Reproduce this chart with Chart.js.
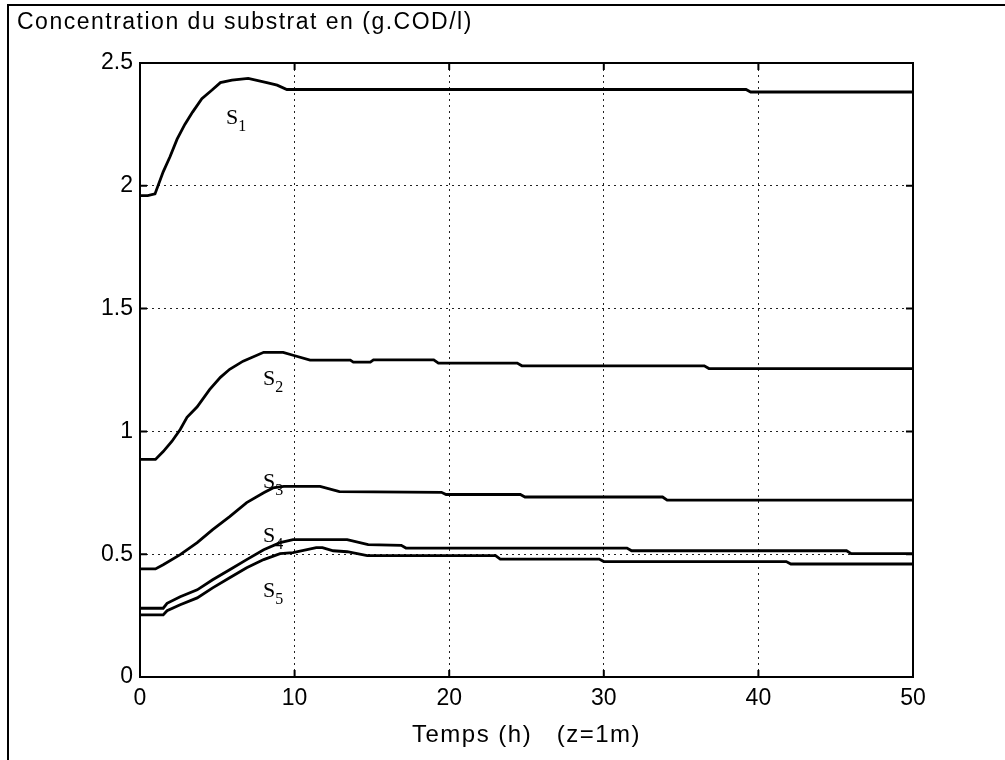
<!DOCTYPE html>
<html>
<head>
<meta charset="utf-8">
<script src="https://cdn.jsdelivr.net/npm/chart.js"></script>
<style>
body { margin: 0; background: #fff; }
</style>
</head>
<body>
<canvas id="myChart" width="1005" height="760"></canvas>
<script>
// values, time in hours, concentration in g.COD/l
const s1Time = [0, 0.5, 0.97, 1.5, 1.94, 2.4, 2.9, 3.4, 4.0, 4.66, 5.2, 5.95, 7.0, 8.2, 8.87, 9.5, 39.2, 39.5, 50];
const s1Conc = [1.96, 1.96, 1.967, 2.057, 2.118, 2.19, 2.25, 2.30, 2.355, 2.39, 2.42, 2.43, 2.437, 2.42, 2.41, 2.392, 2.392, 2.382, 2.382];

const s2Time = [0, 1.0, 1.5, 2.07, 2.6, 3.04, 3.7, 4.5, 5.2, 5.8, 6.67, 8.0, 9.26, 9.9, 11, 13.6, 13.8, 14.9, 15.1, 19.0, 19.3, 24.4, 24.7, 36.5, 36.8, 50];
const s2Conc = [0.886, 0.886, 0.918, 0.96, 1.008, 1.057, 1.10, 1.17, 1.22, 1.253, 1.286, 1.322, 1.322, 1.31, 1.29, 1.29, 1.282, 1.282, 1.291, 1.291, 1.278, 1.278, 1.267, 1.267, 1.256, 1.256];

const s3Time = [0, 1.0, 1.5, 2.6, 3.7, 4.7, 5.8, 6.9, 8.0, 8.6, 9.3, 11.65, 12.9, 19.5, 19.8, 24.6, 24.9, 33.8, 34.1, 50];
const s3Conc = [0.44, 0.44, 0.457, 0.498, 0.547, 0.60, 0.653, 0.71, 0.75, 0.77, 0.776, 0.776, 0.755, 0.752, 0.743, 0.743, 0.733, 0.733, 0.72, 0.72];

const s4Time = [0, 1.5, 1.75, 2.6, 3.7, 4.7, 5.8, 6.9, 8.0, 9.06, 9.9, 13.4, 14.76, 16.9, 17.2, 31.5, 31.8, 45.7, 46.0, 50];
const s4Conc = [0.28, 0.28, 0.30, 0.327, 0.355, 0.396, 0.437, 0.478, 0.518, 0.547, 0.559, 0.559, 0.539, 0.536, 0.525, 0.525, 0.514, 0.514, 0.502, 0.502];

const s5Time = [0, 1.5, 1.75, 2.6, 3.7, 4.7, 5.8, 6.9, 8.0, 9.06, 9.9, 11.4, 11.8, 12.5, 13.4, 14.7, 23.0, 23.3, 29.7, 30.0, 41.8, 42.1, 50];
const s5Conc = [0.253, 0.253, 0.27, 0.294, 0.322, 0.363, 0.404, 0.445, 0.478, 0.502, 0.506, 0.527, 0.527, 0.514, 0.51, 0.494, 0.494, 0.48, 0.48, 0.47, 0.47, 0.46, 0.46];

const xTicks = [0, 10, 20, 30, 40, 50];
const yTicks = [0, 0.5, 1, 1.5, 2, 2.5];

// curve labels (S + subscript), anchored at a time / concentration
const curveIndex = ['1', '2', '3', '4', '5'];
const labelTime = [5.56, 7.96, 7.96, 7.96, 7.96];
const labelConc = [2.253, 1.188, 0.771, 0.551, 0.327];

const yTitle = 'Concentration du substrat en (g.COD/l)';
const xTitle = 'Temps (h)   (z=1m)';

function pts(t, c) {
    return t.map((v, i) => ({ x: v, y: c[i] }));
}

const series = [[s1Time, s1Conc], [s2Time, s2Conc], [s3Time, s3Conc], [s4Time, s4Conc], [s5Time, s5Conc]];

const decor = {
    id: 'decor',
    beforeDraw(chart) {
        const ctx = chart.ctx;
        ctx.save();
        ctx.fillStyle = '#fff';
        ctx.fillRect(0, 0, chart.width, chart.height);
        ctx.restore();
    },
    afterDraw(chart) {
        const { ctx, chartArea: a, scales: { x, y } } = chart;
        ctx.save();
        ctx.strokeStyle = '#000';
        ctx.lineWidth = 2;
        // inward ticks
        ctx.beginPath();
        xTicks.forEach(v => {
            const px = x.getPixelForValue(v);
            ctx.moveTo(px, a.bottom); ctx.lineTo(px, a.bottom - 7);
            ctx.moveTo(px, a.top); ctx.lineTo(px, a.top + 7);
        });
        yTicks.forEach(v => {
            const py = y.getPixelForValue(v);
            ctx.moveTo(a.left, py); ctx.lineTo(a.left + 7, py);
            ctx.moveTo(a.right, py); ctx.lineTo(a.right - 7, py);
        });
        ctx.stroke();
        ctx.strokeRect(a.left, a.top, a.right - a.left, a.bottom - a.top);
        // outer figure frame
        ctx.beginPath();
        ctx.moveTo(8, chart.height); ctx.lineTo(8, 5); ctx.lineTo(chart.width, 5);
        ctx.stroke();

        ctx.fillStyle = '#000';
        ctx.letterSpacing = '1.5px';
        ctx.font = '23px "Liberation Sans", Arial, sans-serif';
        ctx.textBaseline = 'alphabetic';
        ctx.textAlign = 'left';
        ctx.fillText(yTitle, 17, 29);
        ctx.textAlign = 'center';
        ctx.font = '24px "Liberation Sans", Arial, sans-serif';
        ctx.fillText(xTitle, (a.left + a.right) / 2, 742);

        ctx.letterSpacing = '0px';
        ctx.textAlign = 'left';
        curveIndex.forEach((n, i) => {
            const px = x.getPixelForValue(labelTime[i]);
            const py = y.getPixelForValue(labelConc[i]);
            ctx.font = '22px "Liberation Serif", "Times New Roman", serif';
            ctx.fillText('S', px, py);
            const w = ctx.measureText('S').width;
            ctx.font = '16px "Liberation Serif", "Times New Roman", serif';
            ctx.fillText(n, px + w, py + 7);
        });
        ctx.restore();
    }
};

const gridStyle = {
    color: '#222',
    lineWidth: 1,
    drawTicks: false
};

new Chart(document.getElementById('myChart'), {
    type: 'line',
    data: {
        datasets: series.map(s => ({
            data: pts(s[0], s[1]),
            borderColor: '#000',
            borderWidth: 2.8,
            pointRadius: 0,
            tension: 0,
            fill: false
        }))
    },
    options: {
        responsive: false,
        animation: false,
        layout: { padding: { left: 0, top: 63, right: 92, bottom: 0 } },
        scales: {
            x: {
                type: 'linear',
                min: 0,
                max: 50,
                afterFit(scale) { scale.height = 83; },
                afterBuildTicks(scale) { scale.ticks = xTicks.map(v => ({ value: v })); },
                grid: gridStyle,
                border: { display: false, dash: [2, 4] },
                ticks: {
                    padding: 8,
                    color: '#000',
                    font: { family: '"Liberation Sans", Arial, sans-serif', size: 23 }
                }
            },
            y: {
                min: 0,
                max: 2.5,
                afterFit(scale) { scale.width = 140; },
                afterBuildTicks(scale) { scale.ticks = yTicks.map(v => ({ value: v })); },
                grid: gridStyle,
                border: { display: false, dash: [2, 4] },
                ticks: {
                    padding: 7,
                    color: '#000',
                    font: { family: '"Liberation Sans", Arial, sans-serif', size: 23 },
                    callback: v => String(v)
                }
            }
        },
        plugins: {
            legend: { display: false },
            tooltip: { enabled: false }
        }
    },
    plugins: [decor]
});
</script>
</body>
</html>
